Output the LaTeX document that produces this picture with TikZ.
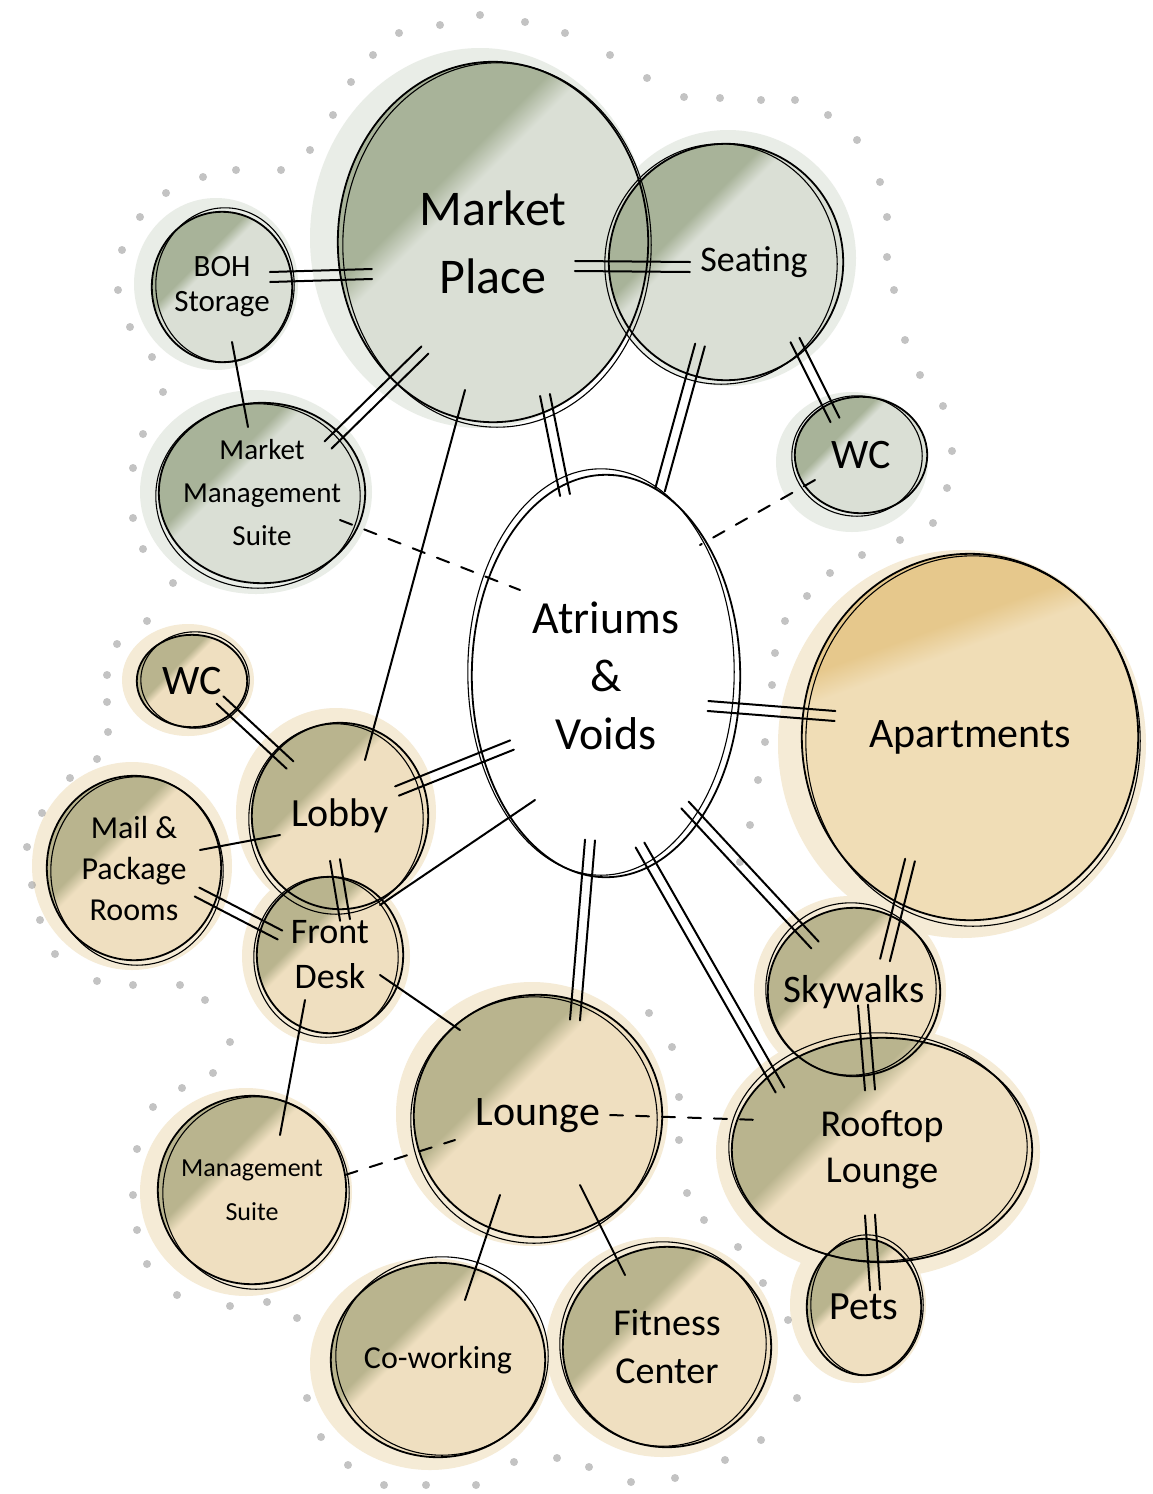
\documentclass[tikz,border=0pt]{standalone}
\usepackage{fontspec}
\setmainfont{Carlito}
\usetikzlibrary{shapes.geometric,calc}

\definecolor{gbase}{HTML}{DADFD5}
\definecolor{gpatch}{HTML}{A8B399}
\definecolor{tbase}{HTML}{EFDFC0}
\definecolor{tpatch}{HTML}{B9B48E}
\definecolor{abase}{HTML}{F0DDB6}
\definecolor{apatch}{HTML}{E6C88C}
\definecolor{ghalo}{HTML}{E9EDE7}
\definecolor{thalo}{HTML}{F5EBD6}
\definecolor{speckgrey}{HTML}{9C9C9C}

\pgfdeclareverticalshading{gwash}{100bp}{color(0bp)=(gbase); color(58bp)=(gbase); color(62bp)=(gpatch); color(100bp)=(gpatch)}
\pgfdeclareverticalshading{twash}{100bp}{color(0bp)=(tbase); color(57bp)=(tbase); color(61bp)=(tpatch); color(100bp)=(tpatch)}
\pgfdeclareverticalshading{awash}{100bp}{color(0bp)=(abase); color(62bp)=(abase); color(66bp)=(apatch); color(100bp)=(apatch)}

% double link: ends given as offsets from the two bubble centres
\newcommand{\dlink}[4]{%
  \coordinate (p) at ($(#1)+#3$);
  \coordinate (q) at ($(#2)+#4$);
  \draw[link] ($(p)!5pt!90:(q)$) -- ($(q)!5pt!-90:(p)$);
  \draw[link] ($(p)!5pt!-90:(q)$) -- ($(q)!5pt!90:(p)$);}
% single link
\newcommand{\slink}[5][link]{%
  \draw[#1] ($(#2)+#4$) -- ($(#3)+#5$);}

\begin{document}
\begin{tikzpicture}[x=1pt,y=-1pt,
    bubble/.style={ellipse, inner sep=-30pt, align=center, shade, shading angle=45},
    gbub/.style={bubble, shading=gwash},
    tbub/.style={bubble, shading=twash},
    fs/.style 2 args={font=\fontsize{#1}{#2}\selectfont},
    rim/.style={draw=black, line width=1.8pt},
    rimb/.style={draw=black, line width=1.1pt},
    link/.style={line width=2pt, line cap=round},
    dlink/.style={link, dash pattern=on 13pt off 13pt},
    speck/.style={fill=speckgrey, opacity=0.6}]
  \useasboundingbox (0,0) rectangle (1153,1494);
  \fill[white] (0,0) rectangle (1153,1494);

  % washes
  \foreach \x/\y/\a/\b/\c in {480/238/170/190/ghalo, 728/258/128/128/ghalo,
      216/284/82/86/ghalo, 256/492/116/102/ghalo, 852/462/76/70/ghalo,
      962/744/184/194/thalo, 188/680/66/56/thalo, 336/812/100/104/thalo,
      132/866/100/104/thalo, 326/956/84/88/thalo, 850/990/96/94/thalo,
      532/1114/136/132/thalo, 878/1152/162/126/thalo, 246/1192/106/104/thalo,
      858/1305/68/78/thalo, 430/1364/120/106/thalo, 662/1347/116/110/thalo}
    \fill[\c] (\x,\y) ellipse [x radius=\a, y radius=\b];

  % dotted site edge
  \foreach \p in {(373,55),(399,33),(440,25),(480,15),(525,22),(565,33),(610,55),
      (647,78),(684,97),(720,98),(761,100),(795,100),(828,115),(857,140),(880,182),
      (887,217),(887,257),(894,290),(905,340),(920,375),(943,406),(952,451),(947,488),
      (933,523),(900,540),(862,555),(830,573),(807,596),(785,621),(775,653),(772,685),
      (765,742),(758,780),(750,825),(740,862),(649,1013),(672,1047),(679,1097),
      (679,1140),(687,1193),(704,1220),(738,1247),(763,1283),(788,1320),(797,1398),
      (761,1440),(725,1460),(675,1478),(631,1482),(589,1467),(557,1458),(514,1462),
      (476,1485),(426,1485),(384,1485),(348,1465),(321,1437),(307,1398),(297,1318),
      (267,1302),(230,1306),(177,1295),(147,1264),(137,1230),(133,1195),(137,1149),
      (153,1107),(182,1088),(213,1073),(230,1042),(205,1000),(180,985),(133,985),
      (97,981),(55,954),(40,920),(32,885),(27,847),(42,813),(70,778),(97,759),
      (108,732),(107,702),(107,675),(117,644),(147,621),(173,583),(143,549),
      (133,518),(133,468),(143,434),(163,392),(152,357),(130,327),(118,290),
      (122,250),(140,217),(166,193),(203,177),(236,170),(281,170),(310,150),
      (333,115),(351,82)}
    \fill[speck] \p circle [radius=4pt];

  % bubbles
  \node[gbub, minimum width=310pt, minimum height=360pt, fs={50}{68}] (mkt) at (493,242) {Market\\Place};
  \node[gbub, minimum width=234pt, minimum height=236pt, fs={36}{44}] (seat) at (726,262) {\hspace*{56pt}Seating};
  \node[gbub, minimum width=140pt, minimum height=150pt, fs={31}{35}] (boh) at (222,287) {BOH\\Storage};
  \node[gbub, minimum width=206pt, minimum height=180pt, fs={29}{43}] (mms) at (262,493) {Market\\Management\\Suite};
  \node[gbub, minimum width=132pt, minimum height=116pt, fs={42}{48}] (wcA) at (861,455) {WC};
  \node[bubble, shading=awash, shading angle=20, minimum width=336pt, minimum height=366pt, fs={42}{50}] (apt) at (970,737) {Apartments};
  \node[tbub, minimum width=110pt, minimum height=92pt, fs={42}{48}] (wcB) at (192,681) {WC};
  \node[tbub, minimum width=176pt, minimum height=186pt, fs={40}{48}] (lob) at (340,816) {Lobby};
  \node[tbub, minimum width=174pt, minimum height=184pt, fs={32}{41}] (mail) at (134,868) {Mail \&\\Package\\Rooms};
  \node[tbub, minimum width=146pt, minimum height=156pt, fs={36}{45}] (fd) at (330,955) {Front\\Desk};
  \node[tbub, minimum width=172pt, minimum height=168pt, fs={39}{46}] (sky) at (854,992) {Skywalks};
  \node[tbub, minimum width=300pt, minimum height=224pt, fs={38}{46}] (roof) at (882,1150) {Rooftop\\Lounge};
  \node[tbub, minimum width=114pt, minimum height=136pt, fs={40}{46}] (pets) at (864,1307) {Pets};
  \node[tbub, minimum width=248pt, minimum height=242pt, fs={42}{48}] (lng) at (538,1116) {Lounge};
  \node[tbub, minimum width=188pt, minimum height=188pt, fs={26}{44}] (ms) at (252,1190) {Management\\Suite};
  \node[tbub, minimum width=214pt, minimum height=194pt, fs={32}{40}] (cow) at (438,1360) {Co-working};
  \node[tbub, minimum width=208pt, minimum height=200pt, fs={38}{48}] (fit) at (667,1347) {Fitness\\Center};
  \node[ellipse, fill=white, inner sep=-30pt, align=center, minimum width=268pt, minimum height=402pt, fs={46}{58}] (atr) at (606,676) {Atriums\\\&\\Voids};

  % sketchy outlines
  \foreach \bub/\dx/\dy in {mkt/4/3, seat/-5/2, boh/3/-2, mms/-4/3, wcA/-4/1, apt/3/4,
      wcB/3/-1, lob/-4/3, mail/3/3, fd/-4/2, sky/-3/-3, roof/-4/-3, pets/3/-2,
      lng/-4/4, ms/4/3, cow/4/-4, fit/-4/-3, atr/-5/-4}{
    \draw[rim] let \p1=($(\bub.east)-(\bub.center)$), \p2=($(\bub.north)-(\bub.center)$)
      in (\bub.center) ellipse [x radius=\x1, y radius=\y2];
    \draw[rimb] let \p1=($(\bub.east)-(\bub.center)$), \p2=($(\bub.north)-(\bub.center)$)
      in ([shift={(\dx,\dy)}]\bub.center) ellipse [x radius=\x1-1pt, y radius=\y2+2pt];
  }

  % links
  \dlink{boh}{mkt}{(48,-10)}{(-121,32)}
  \slink{boh}{mms}{(10,55)}{(-14,-66)}
  \dlink{mkt}{mms}{(-68,108)}{(66,-48)}
  \dlink{mkt}{seat}{(82,24)}{(-36,5)}
  \dlink{mkt}{atr}{(52,153)}{(-41,-181)}
  \slink{mkt}{lob}{(-28,148)}{(25,-56)}
  \dlink{seat}{atr}{(-26,83)}{(54,-186)}
  \dlink{seat}{wcA}{(69,78)}{(-26,-35)}
  \slink[dlink]{wcA}{atr}{(-46,25)}{(94,-131)}
  \slink[dlink]{mms}{atr}{(78,27)}{(-86,-86)}
  \dlink{atr}{apt}{(102,30)}{(-135,-21)}
  \dlink{atr}{lob}{(-94,69)}{(57,-25)}
  \slink{atr}{fd}{(-71,124)}{(50,-50)}
  \dlink{atr}{lng}{(-16,164)}{(37,-96)}
  \dlink{atr}{roof}{(34,169)}{(-102,-60)}
  \dlink{atr}{sky}{(79,129)}{(-39,-47)}
  \dlink{apt}{sky}{(-60,123)}{(31,-32)}
  \dlink{sky}{roof}{(9,13)}{(-12,-60)}
  \dlink{roof}{pets}{(-12,65)}{(11,-17)}
  \slink[dlink]{lng}{roof}{(72,-1)}{(-122,-30)}
  \dlink{wcB}{lob}{(28,19)}{(-50,-51)}
  \slink{mail}{lob}{(66,-18)}{(-60,19)}
  \dlink{mail}{fd}{(63,24)}{(-50,-20)}
  \dlink{lob}{fd}{(-5,44)}{(15,-35)}
  \slink{fd}{lng}{(50,20)}{(-78,-86)}
  \slink{fd}{ms}{(-25,45)}{(28,-55)}
  \slink[dlink]{ms}{lng}{(93,-15)}{(-83,24)}
  \slink{lng}{cow}{(-38,79)}{(27,-60)}
  \slink{lng}{fit}{(42,69)}{(-42,-72)}
\end{tikzpicture}
\end{document}
